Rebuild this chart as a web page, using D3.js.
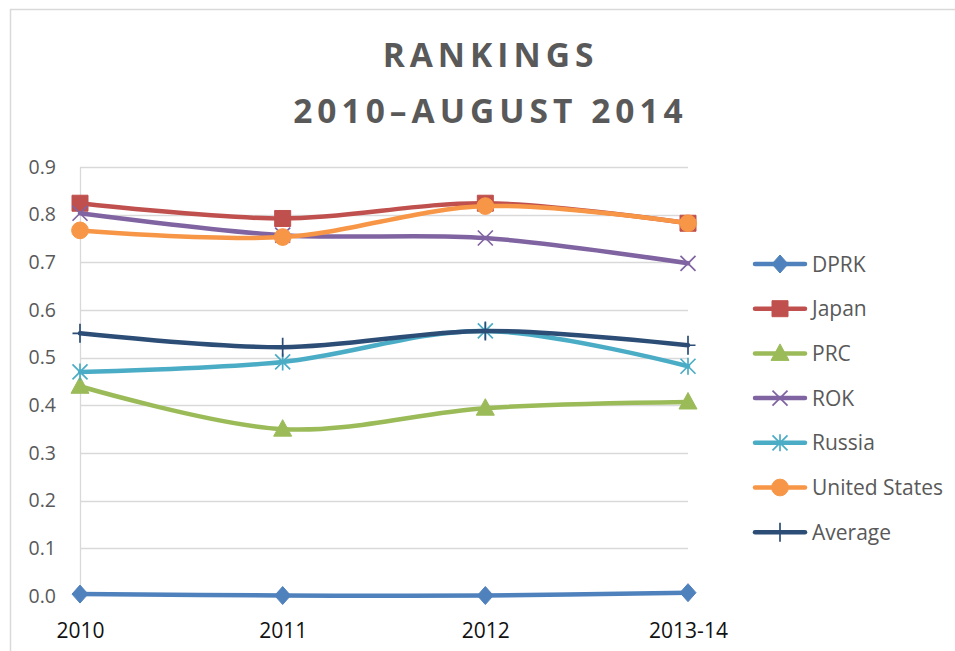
<!DOCTYPE html>
<html>
<head>
<meta charset="utf-8">
<script src="https://cdn.jsdelivr.net/npm/d3@7"></script>
<style>
  body { margin: 0; background: #fff; }
</style>
</head>
<body>
<div id="chart"></div>
<script>
// data
const years = ["2010", "2011", "2012", "2013-14"]
const seriesNames = ["DPRK", "Japan", "PRC", "ROK", "Russia", "United States", "Average"]
const dprk = [0.004, 0.001, 0.001, 0.007]
const japan = [0.824, 0.792, 0.824, 0.782]
const prc = [0.440, 0.350, 0.394, 0.407]
const rok = [0.803, 0.757, 0.751, 0.698]
const russia = [0.470, 0.491, 0.556, 0.482]
const usa = [0.767, 0.753, 0.818, 0.782]
const average = [0.551, 0.522, 0.556, 0.526]
const yTicks = [0, 0.1, 0.2, 0.3, 0.4, 0.5, 0.6, 0.7, 0.8, 0.9]
const colors = ["#4F81BD", "#C0504D", "#9BBB59", "#8064A2", "#4BACC6", "#F79646", "#2C4D75"]
const markers = ["diamond", "square", "triangle", "x", "asterisk", "circle", "plus"]

const series = seriesNames.map((name, i) => ({
    name: name,
    values: [dprk, japan, prc, rok, russia, usa, average][i],
    color: colors[i],
    marker: markers[i]
}))

const W = 955, H = 651
const margin = {top: 167, left: 80, right: 267, bottom: 55}
const w = W - margin.left - margin.right,
    h = H - margin.top - margin.bottom

const svg = d3.select("#chart").append("svg")
    .attr("width", W)
    .attr("height", H)
    .attr("font-family", "'Open Sans', sans-serif")

// chart frame
svg.append("path")
    .attr("d", `M10.5,${H} V9.5 H${W}`)
    .attr("fill", "none")
    .attr("stroke", "#d9d9d9")
    .attr("stroke-width", 1.5)

// title
const tracking = 5
svg.append("g")
    .attr("fill", "#595959")
    .attr("font-weight", "bold")
    .attr("font-size", 33.5)
    .attr("letter-spacing", tracking)
    .attr("text-anchor", "middle")
    .selectAll("text")
    .data(["RANKINGS", "2010\u2013AUGUST 2014"])
    .join("text")
    .attr("x", 488 + tracking / 2)
    .attr("y", (d, i) => 67 + i * 56)
    .text(d => d)

const g = svg.append("g")
    .attr("transform", `translate(${margin.left}, ${margin.top})`)

const x = d3.scalePoint()
    .domain(years)
    .range([0, w])
const y = d3.scaleLinear()
    .domain([0, 0.9])
    .range([h, 0])

// gridlines
g.append("g")
    .selectAll("line")
    .data(yTicks.slice(1))
    .join("line")
    .attr("x1", 0)
    .attr("x2", w)
    .attr("y1", d => Math.round(y(d)) + 0.5)
    .attr("y2", d => Math.round(y(d)) + 0.5)
    .attr("stroke", "#d9d9d9")
    .attr("stroke-width", 1.3)

// y axis
const yAxis = g.append("g")
    .call(d3.axisLeft(y).tickValues(yTicks).tickFormat(d3.format(".1f")).tickSize(0).tickPadding(24))
yAxis.select(".domain").attr("stroke", "#d9d9d9").attr("stroke-width", 1.3)
yAxis.attr("font-family", null)
yAxis.selectAll("text")
    .attr("fill", "#595959")
    .attr("font-size", 19.5)

// x axis labels
const xAxis = g.append("g")
    .attr("transform", `translate(0, ${h})`)
    .call(d3.axisBottom(x).tickSize(0).tickPadding(27))
xAxis.select(".domain").remove()
xAxis.attr("font-family", null)
xAxis.selectAll("text")
    .attr("fill", "#111")
    .attr("font-size", 21)

function markerPath(type) {
    switch (type) {
        case "diamond": return "M0,-9L8,0L0,9L-8,0Z"
        case "square": return "M-8,-8H8V8H-8Z"
        case "triangle": return "M0,-9.5L9,7H-9Z"
        case "circle": return d3.symbol(d3.symbolCircle, 220)()
        case "x": return "M-7.5,-7.5L7.5,7.5M7.5,-7.5L-7.5,7.5"
        case "asterisk": return "M-7.5,-7.5L7.5,7.5M7.5,-7.5L-7.5,7.5M0,-8.5V8.5"
        case "plus": return "M0,-9.5V9.5M-7.5,0H7.5"
    }
}
function drawMarker(sel, s) {
    const filled = ["diamond", "square", "triangle", "circle"].includes(s.marker)
    sel.append("path")
        .attr("d", markerPath(s.marker))
        .attr("fill", filled ? s.color : "none")
        .attr("stroke", s.color)
        .attr("stroke-width", filled ? 1 : 1.7)
}

const line = d3.line()
    .x((d, i) => x(years[i]))
    .y(d => y(d))
    .curve(d3.curveCardinal.tension(0))

series.forEach(s => {
    const sg = g.append("g")
    sg.append("path")
        .attr("d", line(s.values))
        .attr("fill", "none")
        .attr("stroke", s.color)
        .attr("stroke-width", 4.5)
        .attr("stroke-linecap", "round")
    s.values.forEach((v, i) => {
        const m = sg.append("g").attr("transform", `translate(${x(years[i])}, ${y(v)})`)
        drawMarker(m, s)
    })
})

// legend
const legend = svg.append("g")
    .attr("transform", "translate(753, 264)")
series.forEach((s, i) => {
    const row = legend.append("g").attr("transform", `translate(0, ${i * 44.7})`)
    row.append("line")
        .attr("x1", 2).attr("x2", 52)
        .attr("stroke", s.color)
        .attr("stroke-width", 4.5)
        .attr("stroke-linecap", "round")
    const m = row.append("g").attr("transform", "translate(27, 0)")
    drawMarker(m, s)
    row.append("text")
        .attr("x", 59)
        .attr("y", 7.5)
        .attr("fill", "#595959")
        .attr("font-size", 21)
        .text(s.name)
})
</script>
</body>
</html>
